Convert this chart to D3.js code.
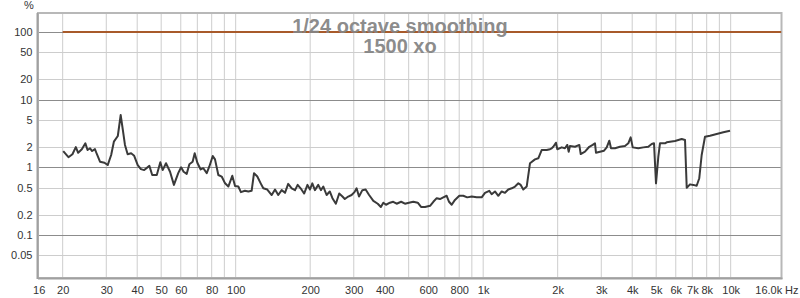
<!DOCTYPE html>
<html>
<head>
<meta charset="utf-8">
<script src="https://cdn.jsdelivr.net/npm/d3@7"></script>
<style>
  body { margin:0; background:#fff; }
  svg { display:block; font-family:"Liberation Sans", Arial, sans-serif; }
</style>
</head>
<body>
<svg id="chart" width="800" height="298"></svg>
<script>
// distortion in %
const freqs = [20.1,21.1,21.9,22.6,23.1,23.9,24.7,25.2,25.8,26.3,27.0,27.5,28.3,29.5,30.4,31.4,32.2,33.4,34.3,35.0,35.7,36.6,37.8,38.9,40.2,41.4,42.7,44.8,46.0,48.0,49.6,50.7,52.3,54.3,56.3,58.6,60.2,61.6,63.4,65.0,67.0,68.3,70.0,72.2,74.0,76.4,78.2,80.8,82.5,85.1,87.8,90.6,93.4,96.9,99.4,102.5,105,109,112.5,116,118.6,122.3,126.2,129.3,134.2,139.8,144.2,148.6,153.4,158.2,163,168.4,173.7,178,183,189,195,199.6,204,209,215.6,221,226,233,240,246,254,262,270,276,285,294,302,308,315,325,335,346,360,375,386,395,405,420,433,447,466,483,501,522,544,561,582,610,629,649,669,690,712,728,746,769,801,831,862,899,941,986,1017,1058,1082,1116,1151,1188,1225,1263,1304,1345,1387,1418,1452,1499,1546,1619,1670,1723,1805,1862,1892,1920,1968,1993,2076,2140,2187,2216,2242,2350,2446,2478,2578,2684,2770,2830,2856,2964,3078,3156,3233,3285,3408,3570,3740,3858,3944,4020,4235,4436,4646,4796,4900,4992,5100,5180,5428,5513,5958,6144,6340,6539,6643,6850,7060,7288,7466,7635,7875,8250,8780,9338,9938];
const distortion = [1.74,1.41,1.56,1.99,1.64,1.85,2.26,1.80,1.91,1.74,1.86,1.56,1.21,1.17,1.08,1.52,2.39,2.90,5.92,3.56,2.14,1.56,1.61,1.48,1.08,0.94,0.91,1.05,0.77,0.77,1.19,0.91,1.15,0.86,0.55,0.82,1.0,0.86,0.80,1.11,1.21,1.61,1.17,0.93,0.97,0.82,1.02,1.47,1.31,0.77,0.73,0.58,0.52,0.75,0.53,0.52,0.43,0.45,0.44,0.45,0.82,0.73,0.58,0.49,0.47,0.39,0.47,0.39,0.46,0.42,0.57,0.49,0.46,0.55,0.49,0.41,0.55,0.47,0.58,0.46,0.55,0.46,0.52,0.39,0.44,0.35,0.29,0.41,0.37,0.34,0.37,0.39,0.43,0.49,0.37,0.46,0.47,0.39,0.32,0.29,0.26,0.30,0.28,0.30,0.31,0.29,0.31,0.29,0.30,0.31,0.30,0.26,0.26,0.27,0.31,0.35,0.34,0.36,0.38,0.31,0.28,0.33,0.38,0.38,0.36,0.37,0.36,0.36,0.42,0.45,0.40,0.44,0.38,0.44,0.42,0.47,0.49,0.52,0.58,0.55,0.47,0.52,1.15,1.31,1.36,1.80,1.80,1.85,1.91,2.01,2.31,1.85,1.97,1.91,2.14,1.70,2.06,2.01,2.14,1.57,1.70,2.01,2.14,2.26,1.64,1.70,1.76,1.97,2.47,1.91,1.91,2.01,2.06,2.26,2.77,1.97,1.91,1.97,2.01,2.21,2.26,0.58,1.43,2.26,2.26,2.34,2.45,2.53,2.62,2.53,0.50,0.56,0.55,0.535,0.69,1.52,2.83,2.93,3.10,3.29,3.47];
const refFreqs = [20, 16000];
const refLevel = [100, 100];

const yTicks = [100,50,20,10,5,2,1,0.5,0.2,0.1,0.05];
const yMajor = [100,10,1,0.1];
const xGrid = [20,30,40,50,60,70,80,90,100,200,300,400,500,600,700,800,900,1000,2000,3000,4000,5000,6000,7000,8000,9000,10000];
const xTicks = [16,20,30,40,50,60,80,100,200,300,400,600,800,1000,2000,3000,4000,5000,6000,7000,8000,10000,16000];
const xTickText = ['16','20','30','40','50','60','80','100','200','300','400','600','800','1k','2k','3k','4k','5k','6k','7k','8k','10k','16.0k'];
const titleLines = ['1/24 octave smoothing', '1500 xo'];

const svg = d3.select('#chart');
const L = 38, R = 781.5, T = 13, B = 278;

const x = d3.scaleLog().domain([16, 16000]).range([38.7, 781.2]);
const y = d3.scaleLog().domain([0.0232, 190]).range([B, T]);

// plot background
svg.append('rect').attr('x', L).attr('y', T).attr('width', R - L).attr('height', B - T).attr('fill', '#fff');

// grid
const grid = svg.append('g');
grid.selectAll('line.v').data(xGrid).join('line')
  .attr('x1', d => x(d)).attr('x2', d => x(d))
  .attr('y1', T).attr('y2', B)
  .attr('stroke', '#cdcdcd').attr('stroke-width', 1);
grid.selectAll('line.h').data(yTicks).join('line')
  .attr('x1', L).attr('x2', R)
  .attr('y1', d => Math.round(y(d)) + 0.5).attr('y2', d => Math.round(y(d)) + 0.5)
  .attr('stroke', d => yMajor.includes(d) ? '#8c8c8c' : '#cdcdcd').attr('stroke-width', 1);

// frame
svg.append('rect').attr('x', L).attr('y', T).attr('width', R - L).attr('height', B - T)
  .attr('fill', 'none').attr('stroke', '#b8b8b8').attr('stroke-width', 2);
svg.append('line').attr('x1', L - 0.5).attr('x2', L - 0.5).attr('y1', T).attr('y2', B + 1)
  .attr('stroke', '#a0a0a0').attr('stroke-width', 2);
svg.append('line').attr('x1', L).attr('x2', R + 1).attr('y1', B + 0.5).attr('y2', B + 0.5)
  .attr('stroke', '#a0a0a0').attr('stroke-width', 2);

// axes
const yAxis = svg.append('g').attr('transform', `translate(${L},0)`)
  .call(d3.axisLeft(y).tickValues(yTicks).tickSize(0).tickPadding(5.5).tickFormat(d => String(d)));
yAxis.select('.domain').remove();
yAxis.selectAll('text').attr('font-size', 11).attr('fill', '#333').attr('font-family', '"Liberation Sans", Arial, sans-serif');

const xAxis = svg.append('g').attr('transform', `translate(0,${B})`)
  .call(d3.axisBottom(x).tickValues(xTicks).tickSize(0).tickPadding(8).tickFormat((d, i) => xTickText[i]));
xAxis.select('.domain').remove();
xAxis.selectAll('text').attr('font-size', 11).attr('fill', '#333').attr('font-family', '"Liberation Sans", Arial, sans-serif');
xAxis.selectAll('.tick').filter(d => d === 16000).select('text').attr('text-anchor', 'end').attr('x', 0.5);
svg.append('text').attr('x', 785).attr('y', 293.8).attr('font-size', 11).attr('fill', '#333').text('Hz');
svg.append('text').attr('x', 29).attr('y', 9).attr('font-size', 11).attr('fill', '#333').attr('text-anchor', 'middle').text('%');

// series
const line = d3.line().x(d => x(d[0])).y(d => y(d[1]));
svg.append('path').datum(d3.zip(refFreqs, refLevel)).attr('d', line)
  .attr('fill', 'none').attr('stroke', '#a85a2a').attr('stroke-width', 2);
svg.append('path').datum(d3.zip(freqs, distortion)).attr('d', line)
  .attr('fill', 'none').attr('stroke', '#3a3a3a').attr('stroke-width', 2).attr('stroke-linejoin', 'round');

// title
svg.append('g').selectAll('text').data(titleLines).join('text')
  .attr('x', 400).attr('y', (d, i) => 33 + i * 20)
  .attr('text-anchor', 'middle').attr('font-size', 20).attr('font-weight', 'bold')
  .attr('fill', '#858585').attr('fill-opacity', 0.95)
  .text(d => d);
</script>
</body>
</html>
